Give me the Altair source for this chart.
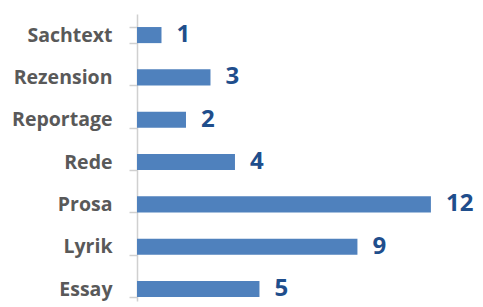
import altair as alt
import pandas as pd

categories = ["Sachtext", "Rezension", "Reportage", "Rede", "Prosa", "Lyrik", "Essay"]
values = [1, 3, 2, 4, 12, 9, 5]

df = pd.DataFrame({"cat": categories, "val": values})

y_enc = alt.Y("cat:N", sort=categories,
              scale=alt.Scale(paddingInner=0.62, paddingOuter=0.2, align=0.77),
              axis=alt.Axis(title=None, ticks=True, tickBand="extent", tickSize=8,
                            tickColor="#d0d0d0", tickWidth=1.5, labelPadding=17,
                            labelFont="Open Sans", labelFontSize=19.5,
                            labelFontWeight="bold", labelColor="#595959",
                            domainColor="#d0d0d0", domainWidth=1.5))
x_scale = alt.Scale(domain=[0, 13.8], nice=False)

bars = alt.Chart(df).mark_bar(color="#4f81bd").encode(
    x=alt.X("val:Q", scale=x_scale, axis=None),
    y=y_enc,
)

text = alt.Chart(df).mark_text(align="left", baseline="middle", dx=15, dy=0,
                               font="Open Sans", fontSize=24, fontWeight="bold",
                               color="#1f4e8c").encode(
    x=alt.X("val:Q", scale=x_scale, axis=None),
    y=alt.Y("cat:N", sort=categories),
    text="val:Q",
)

chart = alt.layer(bars, text).properties(
    width=338, height=287,
    autosize=alt.AutoSizeParams(type="none"),
    padding={"left": 129, "top": 6, "right": 0, "bottom": 6},
).configure_view(stroke=None)

chart.save("out.html", embed_options={"renderer": "svg", "actions": False})
